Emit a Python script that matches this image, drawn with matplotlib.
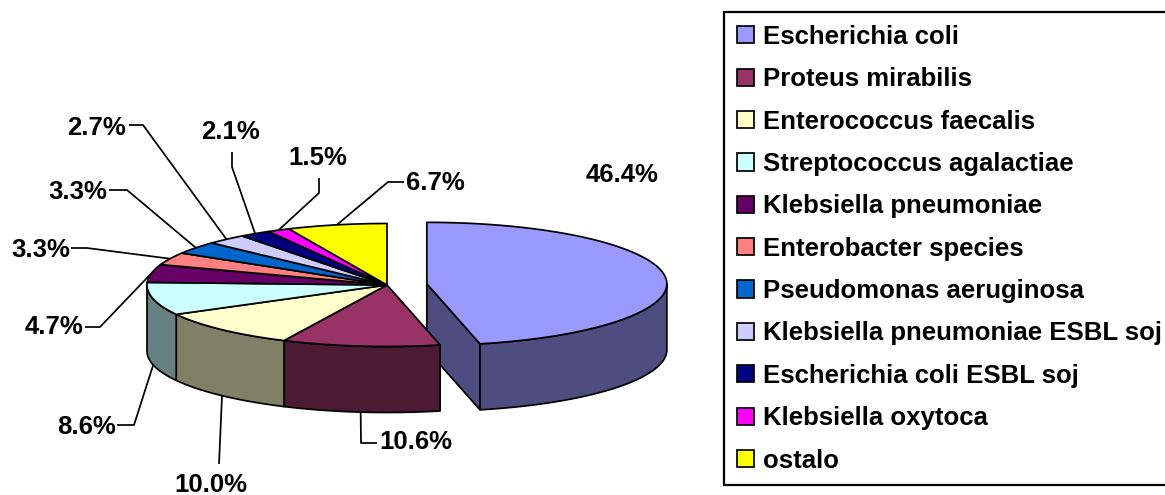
import numpy as np
import matplotlib
matplotlib.use("Agg")
import matplotlib.pyplot as plt
from matplotlib.patches import Polygon, Patch

# ---------------- data ----------------
categories = ["Escherichia coli", "Proteus mirabilis", "Enterococcus faecalis",
              "Streptococcus agalactiae", "Klebsiella pneumoniae", "Enterobacter species",
              "Pseudomonas aeruginosa", "Klebsiella pneumoniae ESBL soj",
              "Escherichia coli ESBL soj", "Klebsiella oxytoca", "ostalo"]
values = [46.4, 10.6, 10.0, 8.6, 4.7, 3.3, 3.3, 2.7, 2.1, 1.5, 6.7]
colors = ["#9999FF", "#993366", "#FFFFCC", "#CCFFFF", "#660066", "#FF8080",
          "#0066CC", "#CCCCFF", "#000080", "#FF00FF", "#FFFF00"]
explode = [0.167, 0, 0, 0, 0, 0, 0, 0, 0, 0, 0]

# ---------------- layout (pixels) ----------------
W, H = 1165, 495
CX, CY = 387, 285
RX, RY = 240, 61.5
DEPTH = 66
LW = 1.25
FONT = "Liberation Sans"
FS = 18.5

# label text centre and leader (knee, end) points; None = no leader
label_text_xy = [(622, 175), (416, 442), (211, 485), (86, 427), (54, 327),
                 (41, 250), (78, 192), (97, 128), (231, 132), (318, 158), (435, 183)]
label_knee = [None, (361, 443), None, (134, 425), (100, 327), (87, 248),
              (127, 190), (143, 125), (232, 167), (319, 193), (388, 182)]
label_end = [None, (377, 443), (219, 464), (117, 425), (85, 327), (71, 248),
             (109, 190), (129, 125), (232, 152), (319, 178), (404, 182)]


def darken(c, f=0.5):
    r, g, b = matplotlib.colors.to_rgb(c)
    return (r * f, g * f, b * f)


fig = plt.figure(figsize=(W / 100, H / 100), dpi=100)
ax = fig.add_axes([0, 0, 1, 1])
ax.set_xlim(0, W)
ax.set_ylim(H, 0)
ax.axis("off")

n = len(values)
total = float(sum(values))
cum = np.concatenate([[0], np.cumsum(values)]) / total
starts = 90 - cum[:-1] * 360
ends = 90 - cum[1:] * 360
mids = (starts + ends) / 2


def pt(cx, cy, t, dz=0.0):
    r = np.radians(t)
    return cx + RX * np.cos(r), cy - RY * np.sin(r) + dz


def arc(cx, cy, t1, t2, dz=0.0):
    m = max(int(abs(t2 - t1) * 2), 2)
    r = np.radians(np.linspace(t1, t2, m))
    return np.column_stack([cx + RX * np.cos(r), cy - RY * np.sin(r) + dz])


def centre(i):
    e = explode[i]
    r = np.radians(mids[i])
    return CX + e * RX * np.cos(r), CY - e * RY * np.sin(r)


def front_intervals(lo, hi):
    res = []
    for k in range(-2, 3):
        a, b = -180 + 360 * k, 360 * k
        l, h = max(lo, a), min(hi, b)
        if h > l:
            res.append((l, h))
    return res


def draw_slice_sides(i):
    cx, cy = centre(i)
    s, e = starts[i], ends[i]
    c = darken(colors[i])
    faces = [
        (s, np.cos(np.radians(s)) < -1e-6 and (explode[i] > 0 or explode[i - 1] > 0)),
        (e, np.cos(np.radians(e)) > 1e-6 and (explode[i] > 0 or explode[(i + 1) % n] > 0)),
    ]
    for ang, vis in faces:
        if vis:
            px, py = pt(cx, cy, ang)
            poly = [(cx, cy), (px, py), (px, py + DEPTH), (cx, cy + DEPTH)]
            ax.add_patch(Polygon(poly, closed=True, fc=c, ec="black", lw=LW, joinstyle="round"))
    for lo, hi in front_intervals(e, s):
        top = arc(cx, cy, lo, hi)
        bot = arc(cx, cy, hi, lo, DEPTH)
        ax.add_patch(Polygon(np.vstack([top, bot]), closed=True, fc=c, ec="black",
                             lw=LW, joinstyle="round"))


def draw_slice_top(i):
    cx, cy = centre(i)
    pts = np.vstack([[cx, cy], arc(cx, cy, starts[i], ends[i])])
    ax.add_patch(Polygon(pts, closed=True, fc=colors[i], ec="black", lw=LW, joinstyle="round"))


exp_idx = [i for i in range(n) if explode[i] > 0]
main_idx = [i for i in range(n) if explode[i] == 0]
for i in exp_idx:
    draw_slice_sides(i)
    draw_slice_top(i)
for i in main_idx:
    draw_slice_sides(i)
for i in main_idx:
    draw_slice_top(i)

# data labels with leader lines
for i, v in enumerate(values):
    tx, ty = label_text_xy[i]
    ax.text(tx, ty, f"{v:.1f}%", ha="center", va="center", fontsize=FS,
            fontweight="bold", family=FONT, color="black")
    if label_end[i] is not None:
        cx, cy = centre(i)
        m = mids[i]
        ax_, ay_ = pt(cx, cy, m, DEPTH if np.sin(np.radians(m)) < 0 else 0.0)
        xs, ys = [ax_], [ay_]
        if label_knee[i] is not None:
            xs.append(label_knee[i][0]); ys.append(label_knee[i][1])
        xs.append(label_end[i][0]); ys.append(label_end[i][1])
        ax.plot(xs, ys, color="black", lw=LW, solid_capstyle="butt")

handles = [Patch(facecolor=c, edgecolor="black", lw=LW) for c in colors]
leg = fig.legend(handles, categories, loc="upper left",
                 bbox_to_anchor=(724 / W, 1 - 12 / H), bbox_transform=fig.transFigure,
                 borderaxespad=0, prop={"family": FONT, "weight": "bold", "size": FS},
                 handlelength=0.66, handleheight=0.66, handletextpad=0.36,
                 labelspacing=0.715, borderpad=0.5, fancybox=False, framealpha=1,
                 edgecolor="black")
leg.get_frame().set_linewidth(1.6)

fig.savefig("out.png", dpi=100)
